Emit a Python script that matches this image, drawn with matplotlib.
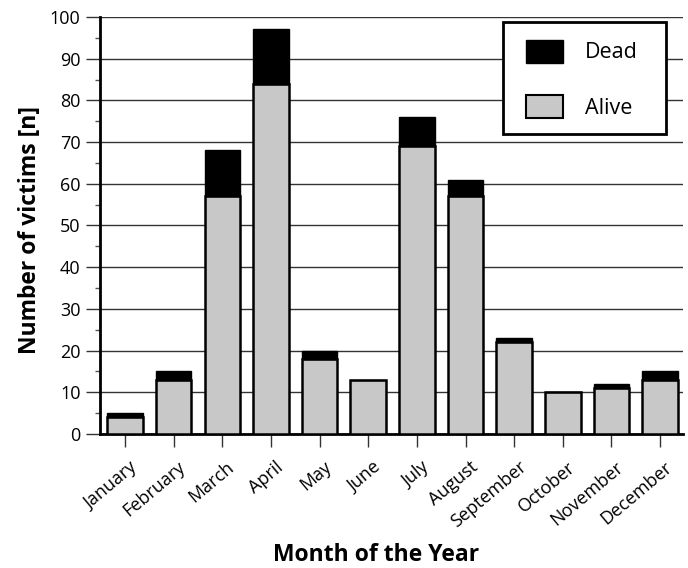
import matplotlib
matplotlib.use("Agg")
import matplotlib.pyplot as plt
from matplotlib.ticker import MultipleLocator
from matplotlib.patches import Patch, Rectangle
from matplotlib.transforms import ScaledTranslation

months = ["January", "February", "March", "April", "May", "June", "July",
          "August", "September", "October", "November", "December"]
alive = [4, 13, 57, 84, 18, 13, 69, 57, 22, 10, 11, 13]
dead = [1, 2, 11, 13, 2, 0, 7, 4, 1, 0, 1, 2]

plt.rcParams['font.family'] = ['Open Sans', 'DejaVu Sans']

fig = plt.figure(figsize=(6.88, 5.68), dpi=100)
ax = fig.add_axes([0.1453, 0.2359, 0.8474, 0.7342])

x = list(range(len(months)))
ax.bar(x, alive, width=0.73, color='#c8c8c8', edgecolor='black', linewidth=1.8, zorder=3)
ax.bar(x, dead, bottom=alive, width=0.73, color='black', edgecolor='black', linewidth=1.0, zorder=3)

ax.set_ylim(0, 100)
ax.set_xlim(-0.514, 11.47)
ax.yaxis.set_major_locator(MultipleLocator(10))
ax.yaxis.set_minor_locator(MultipleLocator(5))
ax.grid(axis='y', which='major', color='#333333', linewidth=1.0, zorder=0)
ax.set_axisbelow(True)
for s in ['top', 'right']:
    ax.spines[s].set_visible(False)
ax.spines['left'].set_linewidth(2)
ax.spines['bottom'].set_linewidth(2)
ax.tick_params(axis='y', which='major', length=10, width=1, labelsize=13, pad=4, color='#333333')
ax.tick_params(axis='y', which='minor', length=3.5, width=1, color='#555555')
ax.tick_params(axis='x', length=9, width=1, labelsize=13, pad=4, color='#333333')
ax.set_xticks(x)
ax.set_xticklabels(months, rotation=40, ha='right', rotation_mode='anchor')
shift = ScaledTranslation(4 / 100, -6 / 100, fig.dpi_scale_trans)
for lbl in ax.get_xticklabels():
    lbl.set_transform(lbl.get_transform() + shift)

ax.set_ylabel("Number of victims [n]", fontsize=16.5, fontweight='bold')
ax.yaxis.set_label_coords(-0.099, 0.49)
ax.set_xlabel("Month of the Year", fontsize=16.5, fontweight='bold')
ax.xaxis.set_label_coords(0.473, -0.262)

# legend frame
frame = Rectangle((0.691, 0.719), 0.280, 0.269, transform=ax.transAxes,
                  facecolor='white', edgecolor='black', linewidth=2, zorder=5)
ax.add_patch(frame)

handles = [Patch(facecolor='black', edgecolor='black', label='Dead'),
           Patch(facecolor='#c8c8c8', edgecolor='black', linewidth=1.5, label='Alive')]
leg = ax.legend(handles=handles, loc='upper left', bbox_to_anchor=(0.731, 0.946),
                fontsize=15.5, frameon=False,
                handlelength=1.72, handleheight=1.3, labelspacing=1.45,
                handletextpad=1.0, borderpad=0.0, borderaxespad=0.0)
leg.set_zorder(6)

fig.savefig("out.png", dpi=100)
